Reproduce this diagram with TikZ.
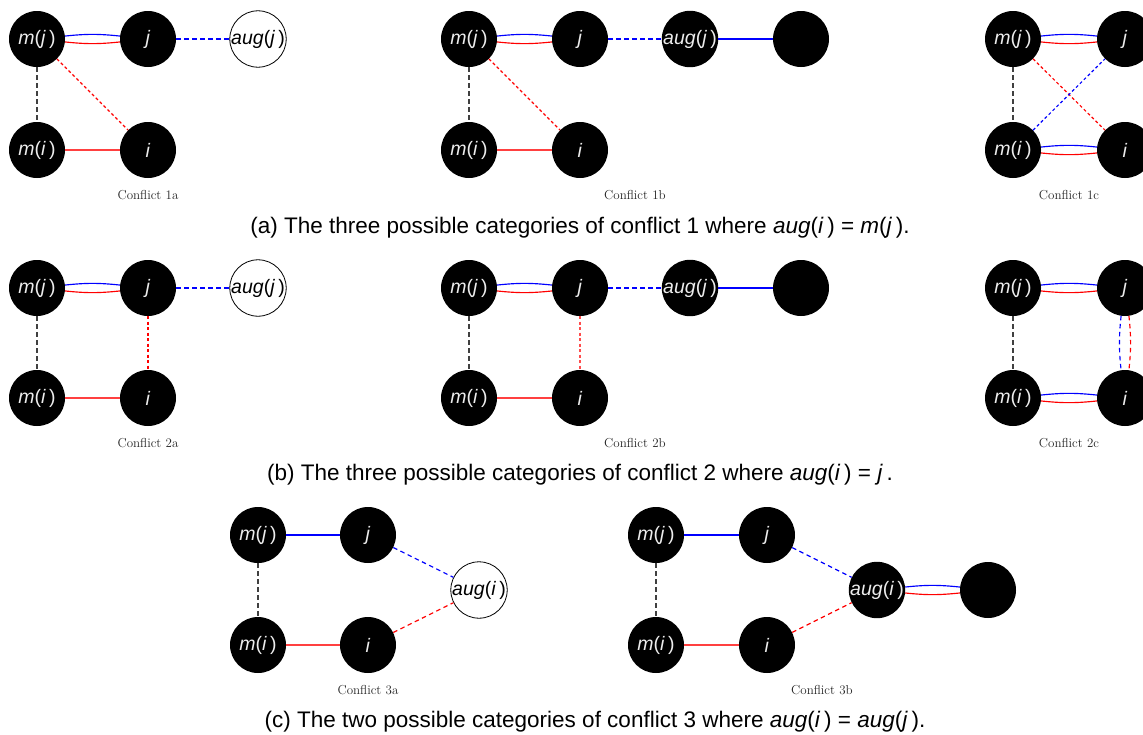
\documentclass[tikz,border=0pt]{standalone}
\usepackage{fontspec}
\newfontfamily\capfont{Liberation Sans}
\begin{document}
\begin{tikzpicture}[x=1pt,y=-1pt,
  vtx/.style={circle, fill=black, minimum size=56pt, inner sep=0pt, text=gray!15, font=\capfont\fontsize{19.5}{23}\selectfont},
  wvtx/.style={circle, draw=black, line width=0.8pt, fill=white, minimum size=56pt, inner sep=0pt, text=black, font=\capfont\fontsize{19.5}{23}\selectfont},
  bl/.style={blue, line width=1.15pt},
  rd/.style={red, line width=1.15pt},
  rdsolid/.style={red!75, line width=1.5pt},
  bk/.style={black!75, line width=1.1pt},
  dsh/.style={dash pattern=on 4.5pt off 3.5pt},
  fdsh/.style={dash pattern=on 3pt off 2.5pt},
  lbl/.style={font=\fontsize{13}{15}\selectfont, text=black!85},
  captxt/.style={font=\capfont\fontsize{22.5}{26}\selectfont}
]
\useasboundingbox (0,0) rectangle (1143,734);
\newcommand{\MJ}{\textit{m}(\textit{j}\,)}
\newcommand{\MI}{\textit{m}(\textit{i}\,)}
\newcommand{\AJ}{\textit{aug}(\textit{j}\,)}
\newcommand{\AI}{\textit{aug}(\textit{i}\,)}

% ---------- Conflict 1a ----------
\node[vtx] (mja) at (37,39) {\MJ};
\node[vtx] (ja) at (148,39) {\textit{j}};
\node[wvtx] (auga) at (258,39) {\AJ};
\node[vtx] (mia) at (37,150) {\MI};
\node[vtx] (ia) at (148,150) {\textit{i}};
\draw[bl] (mja.6) to[bend left=6] (ja.174);
\draw[rd] (mja.-6) to[bend right=6] (ja.-174);
\draw[bl,dsh] (ja) -- (auga);
\draw[bk,dsh] (mja) -- (mia);
\draw[rd,fdsh] (mja) -- (ia);
\draw[rdsolid] (mia) -- (ia);
\node[lbl] (la) at (148,195) {Conflict 1a};

% ---------- Conflict 1b ----------
\node[vtx] (mjb) at (469,39) {\MJ};
\node[vtx] (jb) at (580,39) {\textit{j}};
\node[vtx] (augb) at (690,39) {\AJ};
\node[vtx] (xb) at (801,39) {};
\node[vtx] (mib) at (469,150) {\MI};
\node[vtx] (ib) at (580,150) {\textit{i}};
\draw[bl] (mjb.6) to[bend left=6] (jb.174);
\draw[rd] (mjb.-6) to[bend right=6] (jb.-174);
\draw[bl,dsh] (jb) -- (augb);
\draw[bl] (augb) -- (xb);
\draw[bk,dsh] (mjb) -- (mib);
\draw[rd,fdsh] (mjb) -- (ib);
\draw[rdsolid] (mib) -- (ib);
\node[lbl] (lb) at (635,195) {Conflict 1b};

% ---------- Conflict 1c ----------
\node[vtx] (mjc) at (1013,39) {\MJ};
\node[vtx] (jc) at (1125,39) {\textit{j}};
\node[vtx] (mic) at (1013,150) {\MI};
\node[vtx] (ic) at (1125,150) {\textit{i}};
\draw[bl] (mjc.6) to[bend left=6] (jc.174);
\draw[rd] (mjc.-6) to[bend right=6] (jc.-174);
\draw[bk,dsh] (mjc) -- (mic);
\draw[rd,fdsh] (mjc) -- (ic);
\draw[bl,fdsh] (mic) -- (jc);
\draw[bl] (mic.6) to[bend left=6] (ic.174);
\draw[rd] (mic.-6) to[bend right=6] (ic.-174);
\node[lbl] (lc) at (1069,195) {Conflict 1c};

\node[captxt] (capa) at (580,228) {(a) The three possible categories of conflict 1 where \textit{aug}(\textit{i}\,) = \textit{m}(\textit{j}\,).};

% ---------- Conflict 2a ----------
\node[vtx] (mjd) at (37,288) {\MJ};
\node[vtx] (jd) at (148,288) {\textit{j}};
\node[wvtx] (augd) at (258,288) {\AJ};
\node[vtx] (mid) at (37,398) {\MI};
\node[vtx] (id) at (148,398) {\textit{i}};
\draw[bl] (mjd.6) to[bend left=6] (jd.174);
\draw[rd] (mjd.-6) to[bend right=6] (jd.-174);
\draw[bl,dsh] (jd) -- (augd);
\draw[bk,dsh] (mjd) -- (mid);
\draw[rd,fdsh] (jd) -- (id);
\draw[rdsolid] (mid) -- (id);
\node[lbl] (ld) at (148,443) {Conflict 2a};

% ---------- Conflict 2b ----------
\node[vtx] (mje) at (469,288) {\MJ};
\node[vtx] (je) at (580,288) {\textit{j}};
\node[vtx] (auge) at (690,288) {\AJ};
\node[vtx] (xe) at (801,288) {};
\node[vtx] (mie) at (469,398) {\MI};
\node[vtx] (ie) at (580,398) {\textit{i}};
\draw[bl] (mje.6) to[bend left=6] (je.174);
\draw[rd] (mje.-6) to[bend right=6] (je.-174);
\draw[bl,dsh] (je) -- (auge);
\draw[bl] (auge) -- (xe);
\draw[bk,dsh] (mje) -- (mie);
\draw[red!70,line width=1.6pt,fdsh] (je) -- (ie);
\draw[rdsolid] (mie) -- (ie);
\node[lbl] (le) at (635,443) {Conflict 2b};

% ---------- Conflict 2c ----------
\node[vtx] (mjf) at (1013,288) {\MJ};
\node[vtx] (jf) at (1125,288) {\textit{j}};
\node[vtx] (mif) at (1013,398) {\MI};
\node[vtx] (if) at (1125,398) {\textit{i}};
\draw[bl] (mjf.6) to[bend left=6] (jf.174);
\draw[rd] (mjf.-6) to[bend right=6] (jf.-174);
\draw[bk,dsh] (mjf) -- (mif);
\draw[bl,dsh] (jf.-98) to[bend right=6] (if.98);
\draw[rd,dsh] (jf.-82) to[bend left=6] (if.82);
\draw[bl] (mif.6) to[bend left=6] (if.174);
\draw[rd] (mif.-6) to[bend right=6] (if.-174);
\node[lbl] (lf) at (1069,443) {Conflict 2c};

\node[captxt] (capb) at (580,475) {(b) The three possible categories of conflict 2 where \textit{aug}(\textit{i}\,) = \textit{j}\,.};

% ---------- Conflict 3a ----------
\node[vtx] (mjg) at (258,535) {\MJ};
\node[vtx] (jg) at (368,535) {\textit{j}};
\node[vtx] (mig) at (258,645) {\MI};
\node[vtx] (ig) at (368,645) {\textit{i}};
\node[wvtx] (augg) at (479,590) {\AI};
\draw[bl] (mjg) -- (jg);
\draw[bk,dsh] (mjg) -- (mig);
\draw[rdsolid] (mig) -- (ig);
\draw[bl,dsh] (jg) -- (augg);
\draw[rd,dsh] (ig) -- (augg);
\node[lbl] (lg) at (368,690) {Conflict 3a};

% ---------- Conflict 3b ----------
\node[vtx] (mjh) at (656,535) {\MJ};
\node[vtx] (jh) at (767,535) {\textit{j}};
\node[vtx] (mih) at (656,645) {\MI};
\node[vtx] (ih) at (767,645) {\textit{i}};
\node[vtx] (augh) at (877,590) {\AI};
\node[vtx] (xh) at (988,590) {};
\draw[bl] (mjh) -- (jh);
\draw[bk,dsh] (mjh) -- (mih);
\draw[rdsolid] (mih) -- (ih);
\draw[bl,dsh] (jh) -- (augh);
\draw[rd,dsh] (ih) -- (augh);
\draw[bl] (augh.6) to[bend left=6] (xh.174);
\draw[rd] (augh.-6) to[bend right=6] (xh.-174);
\node[lbl] (lh) at (822,690) {Conflict 3b};

\node[captxt] (capc) at (595,722) {(c) The two possible categories of conflict 3 where \textit{aug}(\textit{i}\,) = \textit{aug}(\textit{j}\,).};
\end{tikzpicture}
\end{document}
